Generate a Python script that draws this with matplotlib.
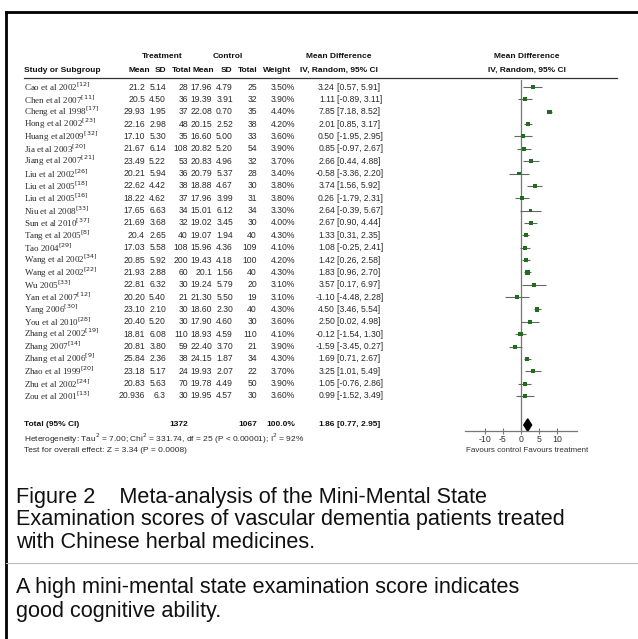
import numpy as np
import matplotlib.pyplot as plt
from matplotlib.patches import Polygon

# Study data
studies = ['Cao et al 2002', 'Chen et al 2007', 'Cheng et al 1998', 'Hong et al 2002',
           'Huang et al2009', 'Jia et al 2003', 'Jiang et al 2007', 'Liu et al 2002',
           'Liu et al 2005', 'Liu et al 2005', 'Niu et al 2008', 'Sun et al 2010',
           'Tang et al 2005', 'Tao 2004', 'Wang et al 2002', 'Wang et al 2002',
           'Wu 2005', 'Yan et al 2007', 'Yang 2006', 'You et al 2010',
           'Zhang et al 2002', 'Zhang 2007', 'Zhang et al 2006', 'Zhao et al 1999',
           'Zhu et al 2002', 'Zou et al 2001']
refs = ['12', '11', '17', '23', '32', '20', '21', '26', '18', '16', '33', '37', '8',
        '29', '34', '22', '33', '12', '30', '28', '19', '14', '9', '20', '24', '13']
trt_mean = ['21.2', '20.5', '29.93', '22.16', '17.10', '21.67', '23.49', '20.21', '22.62',
            '18.22', '17.65', '21.69', '20.4', '17.03', '20.85', '21.93', '22.81', '20.20',
            '23.10', '20.40', '18.81', '20.81', '25.84', '23.18', '20.83', '20.936']
trt_sd = ['5.14', '4.50', '1.95', '2.98', '5.30', '6.14', '5.22', '5.94', '4.42', '4.62',
          '6.63', '3.68', '2.65', '5.58', '5.92', '2.88', '6.32', '5.40', '2.10', '5.20',
          '6.08', '3.80', '2.36', '5.17', '5.63', '6.3']
trt_n = [28, 36, 37, 48, 35, 108, 53, 36, 38, 37, 34, 32, 40, 108, 200, 60, 30, 21, 30,
         30, 110, 59, 38, 24, 70, 30]
ctl_mean = ['17.96', '19.39', '22.08', '20.15', '16.60', '20.82', '20.83', '20.79', '18.88',
            '17.96', '15.01', '19.02', '19.07', '15.96', '19.43', '20.1', '19.24', '21.30',
            '18.60', '17.90', '18.93', '22.40', '24.15', '19.93', '19.78', '19.95']
ctl_sd = ['4.79', '3.91', '0.70', '2.52', '5.00', '5.20', '4.96', '5.37', '4.67', '3.99',
          '6.12', '3.45', '1.94', '4.36', '4.18', '1.56', '5.79', '5.50', '2.30', '4.60',
          '4.59', '3.70', '1.87', '2.07', '4.49', '4.57']
ctl_n = [25, 32, 35, 38, 33, 54, 32, 28, 30, 31, 34, 30, 40, 109, 100, 40, 20, 19, 40,
         30, 110, 21, 34, 22, 50, 30]
weight = [3.50, 3.90, 4.40, 4.20, 3.60, 3.90, 3.70, 3.40, 3.80, 3.80, 3.30, 4.00, 4.30,
          4.10, 4.20, 4.30, 3.10, 3.10, 4.30, 3.60, 4.10, 3.90, 4.30, 3.70, 3.90, 3.60]
md = [3.24, 1.11, 7.85, 2.01, 0.50, 0.85, 2.66, -0.58, 3.74, 0.26, 2.64, 2.67, 1.33,
      1.08, 1.42, 1.83, 3.57, -1.10, 4.50, 2.50, -0.12, -1.59, 1.69, 3.25, 1.05, 0.99]
ci_lo = [0.57, -0.89, 7.18, 0.85, -1.95, -0.97, 0.44, -3.36, 1.56, -1.79, -0.39, 0.90, 0.31,
         -0.25, 0.26, 0.96, 0.17, -4.48, 3.46, 0.02, -1.54, -3.45, 0.71, 1.01, -0.76, -1.52]
ci_hi = [5.91, 3.11, 8.52, 3.17, 2.95, 2.67, 4.88, 2.20, 5.92, 2.31, 5.67, 4.44, 2.35,
         2.41, 2.58, 2.70, 6.97, 2.28, 5.54, 4.98, 1.30, 0.27, 2.67, 5.49, 2.86, 3.49]
total_trt, total_ctl = 1372, 1067
total_md, total_lo, total_hi = 1.86, 0.77, 2.95
xticks = [-10, -5, 0, 5, 10]

caption1 = ['Figure 2    Meta-analysis of the Mini-Mental State',
            'Examination scores of vascular dementia patients treated',
            'with Chinese herbal medicines.']
caption2 = ['A high mini-mental state examination score indicates',
            'good cognitive ability.']

W, H = 638, 639
fig = plt.figure(figsize=(W / 100, H / 100), dpi=100)
bg = fig.add_axes([0, 0, 1, 1])
bg.set_xlim(0, W)
bg.set_ylim(H, 0)
bg.axis('off')

sans = ['Liberation Sans', 'DejaVu Sans']
num = dict(family=sans, fontsize=6.2, color='#2a2a2a', va='center')
hdr = dict(num, fontsize=6.0, fontweight='bold', color='#111111')
serif = dict(family=['Liberation Serif', 'DejaVu Serif'], fontsize=6.5, color='#2a2a2a',
             va='center')

# frame
bg.plot([6, 6], [12, H], color='black', lw=2)
bg.plot([6, W], [12, 12], color='black', lw=2)

# header
y1, y2 = 56, 70
bg.text(162, y1, 'Treatment', ha='center', **hdr)
bg.text(228, y1, 'Control', ha='center', **hdr)
bg.text(339, y1, 'Mean Difference', ha='center', **hdr)
bg.text(527, y1, 'Mean Difference', ha='center', **hdr)
bg.text(24, y2, 'Study or Subgroup', ha='left', **hdr)
for x, s in zip([139, 161, 182, 203, 227, 248, 277],
                ['Mean', 'SD', 'Total', 'Mean', 'SD', 'Total', 'Weight']):
    bg.text(x, y2, s, ha='center', **hdr)
bg.text(339, y2, 'IV, Random, 95% CI', ha='center', **hdr)
bg.text(527, y2, 'IV, Random, 95% CI', ha='center', **hdr)
bg.plot([24, 617], [77.5, 77.5], color='#333333', lw=0.9)

row0, step = 87, 12.36
for i, name in enumerate(studies):
    y = row0 + i * step
    bg.text(24, y, f'{name}$^{{[{refs[i]}]}}$', ha='left', **serif)
    bg.text(145, y, trt_mean[i], ha='right', **num)
    bg.text(166, y, trt_sd[i], ha='right', **num)
    bg.text(188, y, str(trt_n[i]), ha='right', **num)
    bg.text(212, y, ctl_mean[i], ha='right', **num)
    bg.text(233, y, ctl_sd[i], ha='right', **num)
    bg.text(257, y, str(ctl_n[i]), ha='right', **num)
    bg.text(295, y, f'{weight[i]:.2f}%', ha='right', **num)
    bg.text(335, y, f'{md[i]:.2f}', ha='right', **num)
    bg.text(337, y, f'[{ci_lo[i]:.2f}, {ci_hi[i]:.2f}]', ha='left', **num)

yt = 425
bg.text(24, yt, 'Total (95% CI)', ha='left', **hdr)
bg.text(188, yt, str(total_trt), ha='right', **hdr)
bg.text(257, yt, str(total_ctl), ha='right', **hdr)
bg.text(295, yt, '100.0%', ha='right', **hdr)
bg.text(335, yt, f'{total_md:.2f}', ha='right', **hdr)
bg.text(337, yt, f'[{total_lo:.2f}, {total_hi:.2f}]', ha='left', **hdr)
small = dict(num, fontsize=6.0)
bg.text(24, 439, 'Heterogeneity: Tau$^2$ = 7.00; Chi$^2$ = 331.74, df = 25 (P < 0.00001); '
        'I$^2$ = 92%', ha='left', **small)
bg.text(24, 451, 'Test for overall effect: Z = 3.34 (P = 0.0008)', ha='left', **small)

# forest plot panel
px_left, px_right, px_top, px_bot = 465, 577, 80, 431
fx = fig.add_axes([px_left / W, 1 - px_bot / H, (px_right - px_left) / W,
                   (px_bot - px_top) / H])
fx.set_xlim(-15.5, 15.5)
fx.set_ylim((px_bot - row0) / step, (px_top - row0) / step)
fx.patch.set_alpha(0)
for side in ['top', 'left', 'right']:
    fx.spines[side].set_visible(False)
fx.spines['bottom'].set_color('#777777')
fx.spines['bottom'].set_linewidth(0.9)
fx.set_yticks([])
fx.set_xticks(xticks)
fx.set_xticklabels([str(t) for t in xticks], family=sans, fontsize=6.3, color='#333333')
fx.tick_params(axis='x', direction='inout', length=4, width=0.8, color='#777777', pad=1)
fx.axvline(0, color='#777777', lw=0.9)

rows = np.arange(len(studies))
fx.hlines(rows, ci_lo, ci_hi, color='#666666', lw=0.8)
fx.scatter(md, rows, marker='s', s=np.array(weight) * 2.2, color='#1e6e1e', zorder=3,
           linewidths=0)
yd = (yt - row0) / step
fx.add_patch(Polygon([[total_lo, yd], [total_md, yd - 0.5], [total_hi, yd],
                      [total_md, yd + 0.5]], closed=True, color='black', zorder=3))
bg.text(527, 451, 'Favours control Favours treatment', ha='center', va='center',
        family=sans, fontsize=5.8, color='#333333')

# caption
cap = dict(family=sans, fontsize=15.6, color='#111111', va='center', ha='left')
for i, line in enumerate(caption1):
    bg.text(16, 497 + i * 23, line, **cap)
bg.plot([6, W], [563, 563], color='#bbbbbb', lw=0.8)
for i, line in enumerate(caption2):
    bg.text(16, 588 + i * 23, line, **cap)

fig.savefig('out.png', dpi=100)
